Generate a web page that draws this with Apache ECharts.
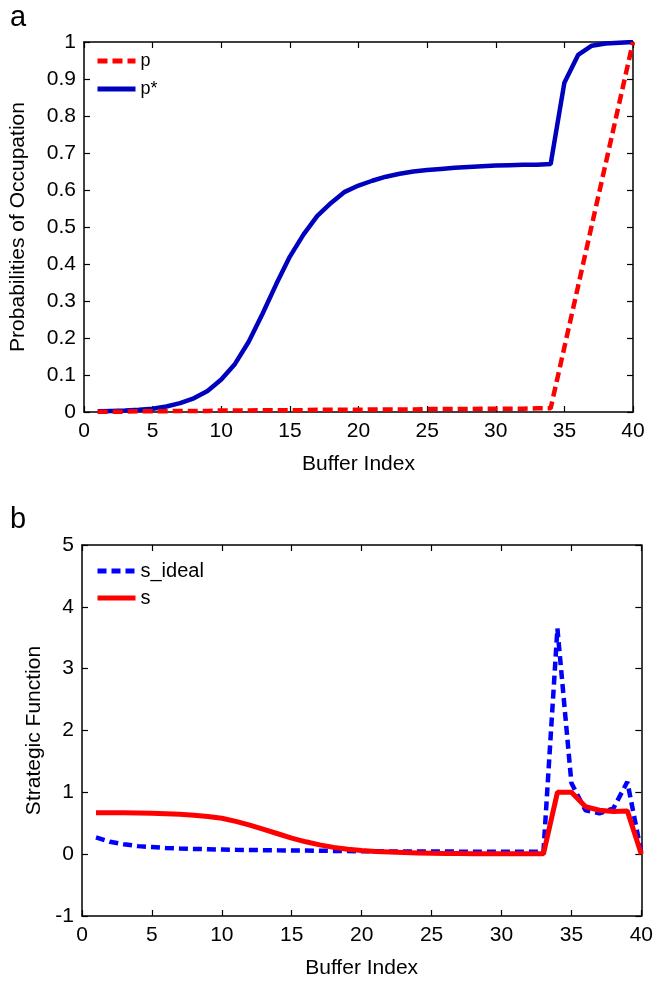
<!DOCTYPE html>
<html>
<head>
<meta charset="utf-8">
<script src="https://cdn.jsdelivr.net/npm/echarts@6/dist/echarts.min.js"></script>
<style>
  html, body { margin: 0; padding: 0; background: #fff; }
  #chart { width: 656px; height: 981px; }
</style>
</head>
<body>
<div id="chart"></div>
<script>
// buffer index 1..40
var bufferIndex = [1, 2, 3, 4, 5, 6, 7, 8, 9, 10, 11, 12, 13, 14, 15, 16, 17, 18, 19, 20,
  21, 22, 23, 24, 25, 26, 27, 28, 29, 30, 31, 32, 33, 34, 35, 36, 37, 38, 39, 40];

// panel a
var pVals = [0.001, 0.001, 0.001, 0.002, 0.002, 0.002, 0.003, 0.003, 0.003, 0.004,
  0.004, 0.004, 0.005, 0.005, 0.005, 0.005, 0.006, 0.006, 0.006, 0.006,
  0.007, 0.007, 0.007, 0.007, 0.008, 0.008, 0.008, 0.008, 0.009, 0.009,
  0.009, 0.009, 0.01, 0.01, 0.175, 0.34, 0.505, 0.67, 0.835, 1.0];
var pStarVals = [0.002, 0.003, 0.004, 0.006, 0.009, 0.015, 0.024, 0.037, 0.057, 0.088,
  0.13, 0.19, 0.265, 0.345, 0.42, 0.48, 0.53, 0.565, 0.595, 0.612,
  0.625, 0.636, 0.644, 0.65, 0.654, 0.657, 0.66, 0.662, 0.664, 0.666,
  0.667, 0.668, 0.668, 0.67, 0.89, 0.965, 0.99, 0.996, 0.998, 1.0];

// panel b
var sIdealVals = [0.27, 0.2, 0.16, 0.13, 0.115, 0.1, 0.09, 0.085, 0.08, 0.075,
  0.07, 0.068, 0.065, 0.062, 0.06, 0.058, 0.055, 0.052, 0.05, 0.048,
  0.046, 0.045, 0.044, 0.043, 0.042, 0.042, 0.041, 0.041, 0.04, 0.04,
  0.04, 0.04, 0.04, 3.65, 1.15, 0.71, 0.66, 0.74, 1.17, 0.02];
var sVals = [0.67, 0.67, 0.67, 0.665, 0.66, 0.655, 0.645, 0.63, 0.61, 0.58,
  0.53, 0.47, 0.4, 0.33, 0.26, 0.2, 0.15, 0.11, 0.08, 0.06,
  0.045, 0.035, 0.025, 0.02, 0.015, 0.012, 0.01, 0.008, 0.007, 0.006,
  0.005, 0.005, 0.005, 1.0, 1.0, 0.77, 0.71, 0.69, 0.7, 0.0];

var xTicks = [0, 40, 5];
var yTicksA = [0, 1, 0.1];
var yTicksB = [-1, 5, 1];

function pairs(vals) {
  return bufferIndex.map(function (x, i) { return [x, vals[i]]; });
}

var FONT = 'Liberation Sans, Arial, sans-serif';
var axisLine = { show: true, onZero: false, lineStyle: { color: '#000', width: 1.5 } };
var tick = { show: true, inside: true, length: 6, lineStyle: { color: '#000', width: 1.2 } };
var lab = { color: '#000', fontSize: 21, fontFamily: FONT };
var nameStyle = { color: '#000', fontSize: 21, fontFamily: FONT };

function xAx(grid, main, gap) {
  return {
    type: 'value', gridIndex: grid, min: xTicks[0], max: xTicks[1], interval: xTicks[2],
    position: main ? 'bottom' : 'top',
    name: main ? 'Buffer Index' : '', nameLocation: 'middle', nameGap: gap,
    nameTextStyle: nameStyle,
    axisLine: axisLine, axisTick: tick, splitLine: { show: false },
    axisLabel: main ? Object.assign({ margin: 9 }, lab) : { show: false }
  };
}
function yAx(grid, main, t, name, gap) {
  return {
    type: 'value', gridIndex: grid, min: t[0], max: t[1], interval: t[2],
    position: main ? 'left' : 'right',
    name: main ? name : '', nameLocation: 'middle', nameGap: gap,
    nameTextStyle: nameStyle,
    axisLine: axisLine, axisTick: tick, splitLine: { show: false },
    axisLabel: main ? Object.assign({ margin: 8 }, lab) : { show: false }
  };
}

var legendItem = { opacity: 0 };

var chart = echarts.init(document.getElementById('chart'), null, { renderer: 'canvas' });
var option = {
  animation: false,
  backgroundColor: '#fff',
  title: [
    { text: 'a', left: 5, top: -2, textStyle: { fontSize: 29, fontWeight: 'normal', color: '#000', fontFamily: FONT } },
    { text: 'b', left: 5, top: 500, textStyle: { fontSize: 29, fontWeight: 'normal', color: '#000', fontFamily: FONT } }
  ],
  grid: [
    { left: 82, top: 42, width: 551, height: 370 },
    { left: 82, top: 545, width: 561, height: 371 }
  ],
  legend: [
    {
      data: ['p', 'p*'], orient: 'vertical', left: 90, top: 47, itemWidth: 38, itemHeight: 14, itemGap: 10,
      itemStyle: legendItem, lineStyle: { width: 5 },
      textStyle: { color: '#000', fontSize: 18, fontFamily: FONT }
    },
    {
      data: ['s_ideal', 's'], orient: 'vertical', left: 90, top: 556, itemWidth: 38, itemHeight: 14, itemGap: 7,
      itemStyle: legendItem, lineStyle: { width: 5 },
      textStyle: { color: '#000', fontSize: 20, fontFamily: FONT }
    }
  ],
  xAxis: [xAx(0, true, 42), xAx(0, false, 0), xAx(1, true, 42), xAx(1, false, 0)],
  yAxis: [
    yAx(0, true, yTicksA, 'Probabilities of Occupation', 55),
    yAx(0, false, yTicksA, '', 0),
    yAx(1, true, yTicksB, 'Strategic Function', 37),
    yAx(1, false, yTicksB, '', 0)
  ],
  series: [
    {
      name: 'p', type: 'line', xAxisIndex: 0, yAxisIndex: 0, data: pairs(pVals),
      symbol: 'none', lineStyle: { color: '#ff0000', width: 4.5, type: [10, 5] }, itemStyle: { color: '#ff0000' }, z: 3
    },
    {
      name: 'p*', type: 'line', xAxisIndex: 0, yAxisIndex: 0, data: pairs(pStarVals),
      symbol: 'none', lineStyle: { color: '#0000bf', width: 4.5 }, itemStyle: { color: '#0000bf' }, z: 2
    },
    {
      name: 's_ideal', type: 'line', xAxisIndex: 2, yAxisIndex: 2, data: pairs(sIdealVals),
      symbol: 'none', lineStyle: { color: '#0000ff', width: 4.5, type: [9, 5] }, itemStyle: { color: '#0000ff' }, z: 2
    },
    {
      name: 's', type: 'line', xAxisIndex: 2, yAxisIndex: 2, data: pairs(sVals),
      symbol: 'none', lineStyle: { color: '#ff0000', width: 5 }, itemStyle: { color: '#ff0000' }, z: 3
    }
  ]
};
chart.setOption(option);
</script>
</body>
</html>
